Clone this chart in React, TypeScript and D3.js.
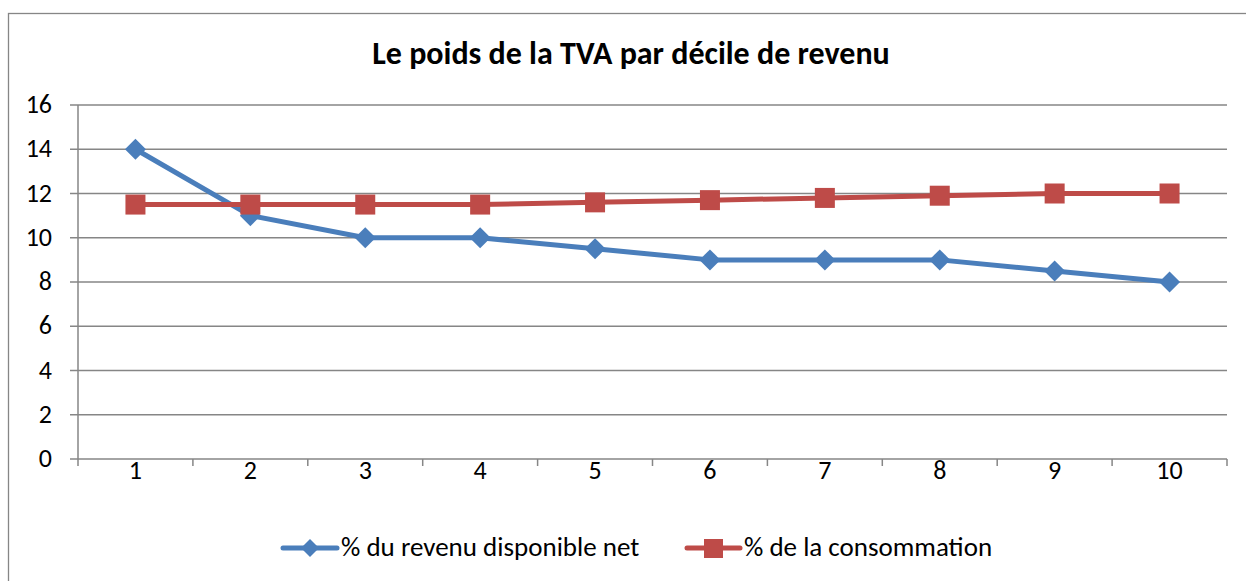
import React from "react";
import * as d3 from "d3";

const deciles = ["1", "2", "3", "4", "5", "6", "7", "8", "9", "10"];
const revenuNet = [14, 11, 10, 10, 9.5, 9, 9, 9, 8.5, 8];
const consommation = [11.5, 11.5, 11.5, 11.5, 11.6, 11.7, 11.8, 11.9, 12, 12];
const yTicks = [0, 2, 4, 6, 8, 10, 12, 14, 16];
const seriesNames = ["% du revenu disponible net", "% de la consommation"];

const W = 1246;
const H = 581;
const plot = { left: 78, right: 1227, top: 105, bottom: 459 };
const font = "Carlito, 'Open Sans', 'Noto Sans', sans-serif";
const blue = "#4A7EBB";
const red = "#BE4B48";
const grid = "#868686";

export default function App() {
  const x = d3.scaleBand().domain(deciles).range([plot.left, plot.right]);
  const y = d3.scaleLinear().domain([0, 16]).range([plot.bottom, plot.top]);
  const cx = (i: number) => (x(deciles[i]) ?? 0) + x.bandwidth() / 2;

  const line = d3
    .line<number>()
    .x((_, i) => cx(i))
    .y(d => y(d));

  const diamond = (px: number, py: number, r: number) =>
    `M${px},${py - r}L${px + r},${py}L${px},${py + r}L${px - r},${py}Z`;

  return (
    <svg width={W} height={H} style={{ position: "absolute", left: 0, top: 0 }}>
      <rect x={0} y={0} width={W} height={H} fill="#fff" />
      <rect x={8.5} y={13.5} width={W + 20} height={H + 20} fill="none" stroke={grid} strokeWidth={1.3} />

      <text x={631} y={64} textAnchor="middle" fontFamily={font} fontWeight="bold" fontSize={32}>
        Le poids de la TVA par décile de revenu
      </text>

      {yTicks.map(t => (
        <g key={t}>
          <line x1={70} x2={plot.right} y1={y(t)} y2={y(t)} stroke={grid} strokeWidth={1.5} />
          <text x={52} y={y(t) + 8} textAnchor="end" fontFamily={font} fontSize={26}>
            {t}
          </text>
        </g>
      ))}

      <line x1={plot.left} x2={plot.left} y1={plot.top} y2={plot.bottom + 7} stroke={grid} strokeWidth={1.5} />
      {deciles.map((d, i) => (
        <g key={d}>
          <line
            x1={(x(d) ?? 0) + x.bandwidth()}
            x2={(x(d) ?? 0) + x.bandwidth()}
            y1={plot.bottom}
            y2={plot.bottom + 7}
            stroke={grid}
            strokeWidth={1.5}
          />
          <text x={cx(i)} y={479} textAnchor="middle" fontFamily={font} fontSize={26}>
            {d}
          </text>
        </g>
      ))}

      <path d={line(revenuNet) ?? ""} fill="none" stroke={blue} strokeWidth={5} strokeLinejoin="round" />
      {revenuNet.map((v, i) => (
        <path key={i} d={diamond(cx(i), y(v), 10.5)} fill={blue} />
      ))}

      <path d={line(consommation) ?? ""} fill="none" stroke={red} strokeWidth={5} strokeLinejoin="round" />
      {consommation.map((v, i) => (
        <rect key={i} x={cx(i) - 10} y={y(v) - 10} width={20} height={20} fill={red} />
      ))}

      <g>
        <line x1={283} x2={337} y1={548} y2={548} stroke={blue} strokeWidth={5} strokeLinecap="round" />
        <path d={diamond(310, 548, 9)} fill={blue} />
        <text x={341} y={556} fontFamily={font} fontSize={27}>
          {seriesNames[0]}
        </text>
        <line x1={687} x2={740} y1={548} y2={548} stroke={red} strokeWidth={5} strokeLinecap="round" />
        <rect x={704} y={539} width={19} height={19} fill={red} />
        <text x={744} y={556} fontFamily={font} fontSize={27}>
          {seriesNames[1]}
        </text>
      </g>
    </svg>
  );
}
